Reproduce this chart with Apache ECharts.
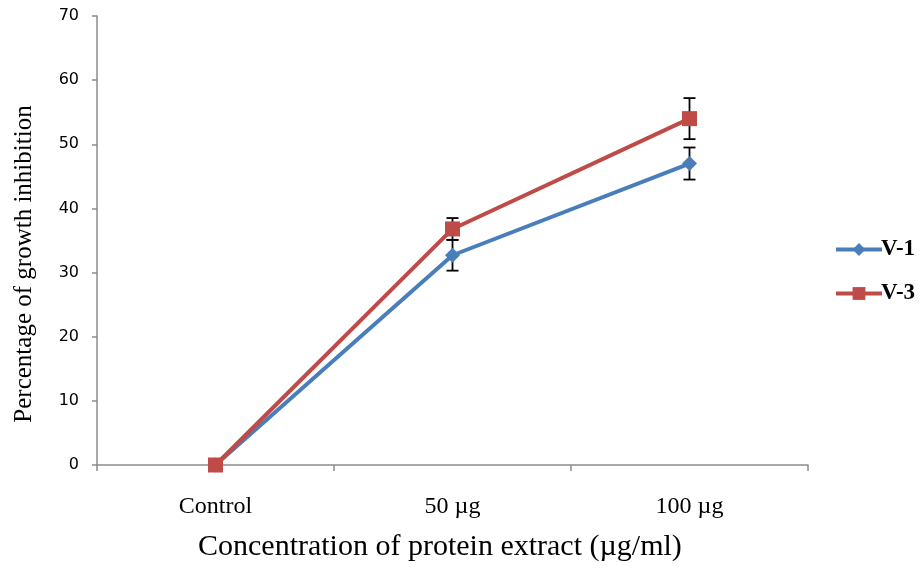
<!DOCTYPE html>
<html><head><meta charset="utf-8">
<script src="https://cdn.jsdelivr.net/npm/echarts@6/dist/echarts.min.js"></script>
<style>html,body{margin:0;padding:0;background:#fff}#c{width:922px;height:568px}</style>
</head><body><div id="c"></div>
<script>
var categories = ['Control', '50 µg', '100 µg'];
var v1 = [0, 32.7, 47.0];
var v1Err = [0, 2.4, 2.5];
var v3 = [0, 36.8, 54.0];
var v3Err = [0, 1.7, 3.2];
var yTicks = [0, 10, 20, 30, 40, 50, 60, 70];
var xTitle = 'Concentration of protein extract (µg/ml)';
var yTitle = 'Percentage of growth inhibition';

function errData(vals, errs) {
  var out = [];
  for (var i = 0; i < vals.length; i++) {
    if (errs[i] > 0) out.push([i, vals[i] - errs[i], vals[i] + errs[i]]);
  }
  return out;
}
function renderErr(params, api) {
  var x = api.value(0);
  var lo = api.coord([x, api.value(1)]);
  var hi = api.coord([x, api.value(2)]);
  var w = 6;
  var st = {stroke: '#000', lineWidth: 1.8};
  return {type: 'group', children: [
    {type: 'line', shape: {x1: lo[0], y1: lo[1], x2: hi[0], y2: hi[1]}, style: st},
    {type: 'line', shape: {x1: lo[0]-w, y1: lo[1], x2: lo[0]+w, y2: lo[1]}, style: st},
    {type: 'line', shape: {x1: hi[0]-w, y1: hi[1], x2: hi[0]+w, y2: hi[1]}, style: st}
  ]};
}

var chart = echarts.init(document.getElementById('c'));
chart.setOption({
  animation: false,
  grid: {left: 97, top: 16, right: 114, bottom: 103},
  legend: {
    orient: 'vertical', left: 829, top: 233, itemGap: 21,
    itemWidth: 46, itemHeight: 16,
    lineStyle: {width: 4},
    textStyle: {fontFamily: 'Liberation Serif', fontSize: 23, color: '#000', fontWeight: 'bold', padding: [0,0,0,-6]},
    data: ['V-1', 'V-3']
  },
  graphic: [
    {type: 'text', left: 198, top: 532,
     style: {text: xTitle, fontFamily: 'Liberation Serif', fontSize: 30, fill: '#000'}},
    {type: 'text', x: 12, y: 264, rotation: Math.PI / 2,
     style: {text: yTitle, fontFamily: 'Liberation Serif', fontSize: 25, fill: '#000',
             align: 'center', verticalAlign: 'top'}}
  ],
  xAxis: {
    type: 'category', data: categories, boundaryGap: true,
    axisLine: {lineStyle: {color: '#8c8c8c', width: 1.5}},
    axisTick: {show: true, length: 6, lineStyle: {color: '#8c8c8c', width: 1.5}},
    axisLabel: {fontFamily: 'Liberation Serif', fontSize: 24, color: '#000', margin: 30}
  },
  yAxis: {
    type: 'value', min: 0, max: 70, interval: 10,
    axisLine: {show: true, lineStyle: {color: '#8c8c8c', width: 1.5}},
    axisTick: {show: true, length: 5, lineStyle: {color: '#8c8c8c', width: 1.5}},
    splitLine: {show: false},
    axisLabel: {fontFamily: 'DejaVu Sans', fontSize: 16, color: '#000', margin: 18,
      formatter: function (v) { return yTicks.indexOf(v) >= 0 ? String(v) : ''; }}
  },
  series: [
    {name: 'V-1', type: 'line', data: v1, symbol: 'diamond', symbolSize: 15,
     lineStyle: {color: '#4a7ebb', width: 4}, itemStyle: {color: '#4a7ebb'}, z: 3},
    {name: 'V-3', type: 'line', data: v3, symbol: 'rect', symbolSize: 15,
     lineStyle: {color: '#be4b48', width: 4}, itemStyle: {color: '#be4b48'}, z: 4},
    {type: 'custom', renderItem: renderErr, data: errData(v1, v1Err), z: 2, encode: {x: 0, y: [1, 2]}},
    {type: 'custom', renderItem: renderErr, data: errData(v3, v3Err), z: 2, encode: {x: 0, y: [1, 2]}}
  ]
});
</script></body></html>
